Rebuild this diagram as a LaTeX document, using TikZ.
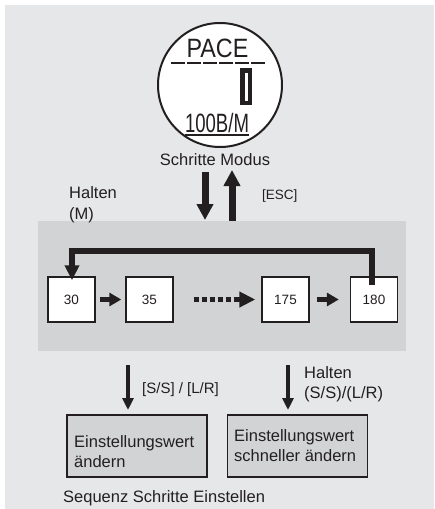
\documentclass[tikz,border=0pt]{standalone}
\usepackage{fontspec}
\setmainfont{Liberation Sans}
\usetikzlibrary{arrows.meta}
\definecolor{bggray}{HTML}{E6E7E8}
\definecolor{panelgray}{HTML}{D1D3D4}
\definecolor{ink}{HTML}{231F20}
\tikzset{
  lbl/.style={font=\fontsize{16.5}{20}\selectfont, text=ink, inner sep=0pt, anchor=base west},
  numbox/.style={draw=ink, line width=1.4pt, fill=white, minimum width=47pt, minimum height=45pt, inner sep=0pt, font=\fontsize{13.5}{16}\selectfont, text=ink},
  setbox/.style={draw=ink, line width=1.6pt, fill=panelgray, minimum width=140pt, minimum height=62pt, inner sep=0pt},
  bigarrow/.style={draw=ink, line width=7pt, -{Triangle[length=16pt,width=16pt]}},
  midarrow/.style={draw=ink, line width=5pt, -{Triangle[length=12pt,width=13pt]}},
  thinarrow/.style={draw=ink, line width=4pt, -{Triangle[length=12pt,width=11pt]}},
  looparrow/.style={draw=ink, line width=5.5pt, -{Triangle[length=15pt,width=14pt]}}
}
\begin{document}
\begin{tikzpicture}[x=1pt,y=-1pt]
\useasboundingbox (0,0) rectangle (434,509);
\fill[bggray] (5,5) rectangle (434,509);
% display
\node[circle, draw=ink, line width=2pt, fill=white, minimum size=124pt, inner sep=0pt] (disp) at (220,85) {};
\node[font=\fontsize{26.5}{30}\selectfont, text=ink, inner sep=0pt, anchor=base] (pace) at (217.5,57) {\scalebox{0.88}[1]{PACE}};
\draw[ink, line width=2.5pt, dash pattern=on 13.5pt off 2.5pt] (171,63) -- (267,63);
\draw[ink, line width=4.5pt] (242.25,70.25) rectangle (249.75,102.75);
\node[font=\fontsize{26.5}{30}\selectfont, text=ink, inner sep=0pt, anchor=base] (unit) at (217,132) {\scalebox{0.7}[1]{100B/M}};
\draw[ink, line width=1.5pt] (185,135) -- (249,135);
\node[lbl, anchor=base] (modus) at (215,165) {Schritte Modus};
% panel
\fill[panelgray] (38,221) rectangle (406,351);
\coordinate (dA) at (205,172);
\coordinate (dB) at (205,220);
\coordinate (uA) at (232,221);
\coordinate (uB) at (232,170);
\draw[bigarrow] (dA) -- (dB);
\draw[bigarrow] (uA) -- (uB);
\node[lbl] (halt) at (69,198) {Halten};
\node[lbl] (haltm) at (69,219) {(M)};
\node[lbl, font=\fontsize{13.5}{16}\selectfont] (esc) at (262,199) {[ESC]};
% boxes
\node[numbox] (b30) at (71.5,299.5) {30};
\node[numbox] (b35) at (149.5,299.5) {35};
\node[numbox] (b175) at (285.5,299.5) {175};
\node[numbox] (b180) at (374,299.5) {180};
\draw[midarrow] (b30.east) ++(4,0) -- ([xshift=-4pt]b35.west);
\draw[ink, line width=5pt, dash pattern=on 5pt off 3pt] ([xshift=20pt]b35.east) -- (241,299.5);
\draw[draw=ink, line width=5pt, -{Triangle[length=16pt,width=15pt]}] (238,299.5) -- ([xshift=-6pt]b175.west);
\draw[midarrow] (b175.east) ++(7,0) -- ([xshift=-11pt]b180.west);
\draw[looparrow] ([yshift=-9pt]b180.north -| 372,0) -- (372,251) -- (72,251) -- ([yshift=-4pt]b30.north -| 72,0);
% bottom
\coordinate (s1a) at (128,365);
\coordinate (s1b) at (128,410);
\coordinate (s2a) at (288,365);
\coordinate (s2b) at (288,410);
\draw[thinarrow] (s1a) -- (s1b);
\draw[thinarrow] (s2a) -- (s2b);
\node[lbl, font=\fontsize{15}{18}\selectfont] (ss) at (142,393) {[S/S] / [L/R]};
\node[lbl] (h2) at (304,378) {Halten};
\node[lbl] (h2b) at (304,398) {(S/S)/(L/R)};
\node[setbox] (set1) at (137,446) {};
\node[setbox] (set2) at (297.5,446) {};
\node[lbl] (t1a) at (74,447) {Einstellungswert};
\node[lbl] (t1b) at (74,467) {ändern};
\node[lbl] (t2a) at (234,441) {Einstellungswert};
\node[lbl] (t2b) at (234,461) {schneller ändern};
\node[lbl] (seq) at (63,502) {Sequenz Schritte Einstellen};
\end{tikzpicture}
\end{document}
